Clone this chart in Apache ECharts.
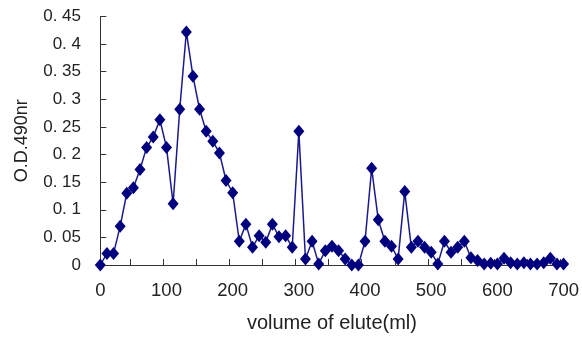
<!DOCTYPE html>
<html>
<head>
<meta charset="utf-8">
<script src="https://cdn.jsdelivr.net/npm/echarts@6/dist/echarts.min.js"></script>
<style>
  html, body { margin: 0; padding: 0; background: #fff; }
  #chart { width: 582px; height: 338px; }
</style>
</head>
<body>
<div id="chart"></div>
<script>
// elution volume (ml) and absorbance
const volume = [
  0, 10, 20, 30, 40, 50, 60, 70, 80, 90,
  100, 110, 120, 130, 140, 150, 160, 170, 180, 190,
  200, 210, 220, 230, 240, 250, 260, 270, 280, 290,
  300, 310, 320, 330, 340, 350, 360, 370, 380, 390,
  400, 410, 420, 430, 440, 450, 460, 470, 480, 490,
  500, 510, 520, 530, 540, 550, 560, 570, 580, 590,
  600, 610, 620, 630, 640, 650, 660, 670, 680, 690,
  700
];
const od490 = [
  0, 0.021, 0.021, 0.07, 0.13, 0.14, 0.173, 0.213, 0.232, 0.263,
  0.213, 0.111, 0.282, 0.422, 0.342, 0.282, 0.242, 0.224, 0.203, 0.153,
  0.131, 0.043, 0.074, 0.032, 0.053, 0.041, 0.074, 0.051, 0.053, 0.032,
  0.242, 0.011, 0.043, 0.002, 0.026, 0.034, 0.026, 0.011, 0, 0,
  0.043, 0.175, 0.082, 0.043, 0.034, 0.011, 0.133, 0.032, 0.043, 0.032,
  0.023, 0.002, 0.043, 0.023, 0.032, 0.043, 0.013, 0.008, 0.002, 0.003,
  0.002, 0.012, 0.004, 0.002, 0.004, 0.002, 0.002, 0.004, 0.012, 0.002,
  0.002
];

// axis ticks / labels
const xLabelValues = [0, 100, 200, 300, 400, 500, 600, 700];
const xTickValues = [45, 95, 145, 195, 245, 295, 345, 395, 445, 495, 545, 595, 645, 695];

const FONT = '"Liberation Sans", Arial, sans-serif';
const AXIS_COLOR = '#333';
const TEXT_COLOR = '#222';

const chart = echarts.init(document.getElementById('chart'));

const option = {
  backgroundColor: '#fff',
  animation: false,
  grid: {
    left: 97,
    right: 14,
    top: 16.5,
    bottom: 71.3
  },
  xAxis: {
    type: 'value',
    min: -5,
    max: 705,
    name: 'volume of elute(ml)',
    nameLocation: 'middle',
    nameGap: 48,
    nameTextStyle: { fontFamily: FONT, fontSize: 20, color: TEXT_COLOR },
    splitLine: { show: false },
    axisLine: { lineStyle: { color: AXIS_COLOR, width: 1 } },
    axisTick: {
      inside: true,
      length: 6,
      customValues: xTickValues,
      lineStyle: { color: AXIS_COLOR }
    },
    axisLabel: {
      customValues: xLabelValues,
      margin: 16,
      fontFamily: FONT,
      fontSize: 18.5,
      color: TEXT_COLOR
    }
  },
  yAxis: {
    type: 'value',
    min: 0,
    max: 0.45,
    interval: 0.05,
    name: 'O.D.490nr',
    nameLocation: 'middle',
    nameGap: 66,
    nameRotate: 90,
    nameTextStyle: { fontFamily: FONT, fontSize: 18, color: TEXT_COLOR },
    splitLine: { show: false },
    axisLine: { show: true, lineStyle: { color: AXIS_COLOR, width: 1 } },
    axisTick: {
      show: true,
      inside: true,
      length: 6,
      lineStyle: { color: AXIS_COLOR }
    },
    axisLabel: {
      margin: 16,
      fontFamily: FONT,
      fontSize: 17,
      color: TEXT_COLOR,
      formatter: v => {
        const s = String(Math.round(v * 100) / 100);
        return s === '0' ? '0' : s.replace('.', '. ');
      }
    }
  },
  series: [
    {
      type: 'line',
      data: volume.map((v, i) => [v, od490[i]]),
      symbol: 'diamond',
      symbolSize: [11, 13],
      showAllSymbol: true,
      lineStyle: { color: '#1a1a8c', width: 1.5 },
      itemStyle: { color: '#000080' },
      clip: false
    }
  ]
};

chart.setOption(option);
</script>
</body>
</html>
